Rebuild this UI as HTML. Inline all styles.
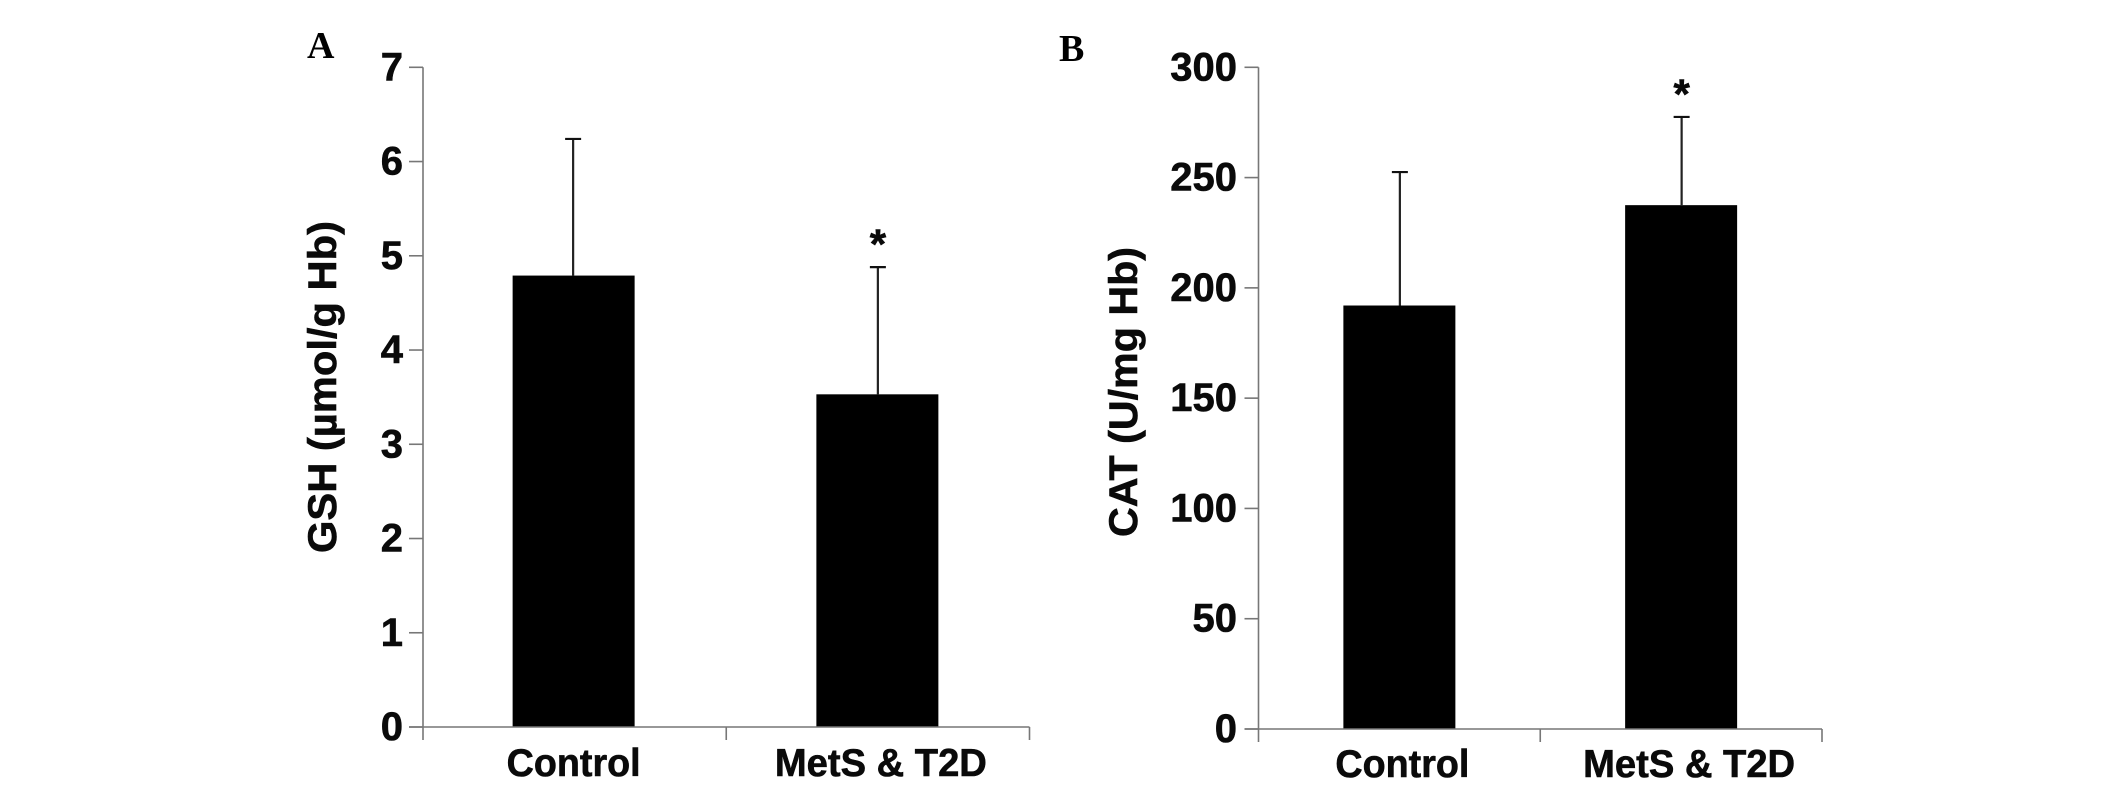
<!DOCTYPE html>
<html lang="en">
<head>
<meta charset="utf-8">
<title>GSH and CAT bar charts</title>
<style>
html,body{margin:0;padding:0;background:#fff;width:2126px;height:812px;overflow:hidden}
svg{display:block}
text{font-family:"Liberation Sans",sans-serif;font-weight:700;fill:#0a0a0a;stroke:#0a0a0a;stroke-width:.6px}
.letter{font-family:"Liberation Serif",serif;fill:#000;stroke:none}
</style>
</head>
<body>
<svg id="figure" width="2126" height="812" viewBox="0 0 2126 812" xmlns="http://www.w3.org/2000/svg"></svg>
<script>
const categories = ['Control', 'MetS & T2D'];
const gshValues = [4.79, 3.53];
const gshUpper = [6.24, 4.88];
const gshTicks = [0, 1, 2, 3, 4, 5, 6, 7];
const catValues = [192, 237.5];
const catUpper = [252.5, 277.5];
const catTicks = [0, 50, 100, 150, 200, 250, 300];
const gshSignificant = [false, true];
const catSignificant = [false, true];

const NS = 'http://www.w3.org/2000/svg';
const svg = document.getElementById('figure');

function add(parent, tag, attrs, content) {
  const el = document.createElementNS(NS, tag);
  for (const k in attrs) el.setAttribute(k, attrs[k]);
  if (content !== undefined) el.textContent = content;
  parent.appendChild(el);
  return el;
}

function drawPanel(p) {
  const g = add(svg, 'g', {});
  
  

  const yMax = p.ticks[p.ticks.length - 1];
  const yScale = v => p.y0 - (v / yMax) * (p.y0 - p.yTop);
  const bandW = (p.xEnd - p.x0) / p.categories.length;
  const xCenter = i => p.x0 + bandW * (i + 0.5);

  const letter = add(g, 'text', {x: p.letterX, y: p.letterY, 'font-size': 38, class: 'letter'}, p.letter);
  
  

  const title = add(g, 'text', {
    transform: 'translate(' + p.titleX + ',' + p.titleY + ') rotate(-90)',
    'text-anchor': 'middle', 'font-size': 40,
    textLength: p.titleLen, lengthAdjust: 'spacingAndGlyphs'
  }, p.title);
  
  

  p.categories.forEach((c, i) => {
    const cx = xCenter(i);
    const bar = add(g, 'rect', {
      x: cx + p.barDx[i] - p.barW / 2, y: yScale(p.values[i]),
      width: p.barW, height: p.y0 - yScale(p.values[i]), fill: '#000'
    });
    
    

    const ex = cx + p.errDx[i];
    const err = add(g, 'line', {
      x1: ex, x2: ex, y1: yScale(p.values[i]), y2: yScale(p.upper[i]),
      stroke: '#222', 'stroke-width': 2.2
    });
    
    

    const cap = add(g, 'line', {
      x1: ex - 8, x2: ex + 8, y1: yScale(p.upper[i]), y2: yScale(p.upper[i]),
      stroke: '#111', 'stroke-width': 2.2
    });
    
    

    if (p.significant[i]) {
      const star = add(g, 'text', {
        x: ex, y: yScale(p.upper[i]) - 8.5, 'text-anchor': 'middle', 'font-size': 42, fill: '#000'
      }, '*');
      
      
    }

    const label = add(g, 'text', {
      x: cx + p.labelDx[i], y: p.labelY, 'text-anchor': 'middle', 'font-size': 39,
      textLength: p.labelLen[i], lengthAdjust: 'spacingAndGlyphs'
    }, c);
    
    
  });

  const yAxis = add(g, 'line', {x1: p.x0, x2: p.x0, y1: p.yTop, y2: p.y0 + 13, stroke: '#777', 'stroke-width': 1.6});
  
  

  const xAxis = add(g, 'line', {x1: p.x0 - 14, x2: p.xEnd, y1: p.y0, y2: p.y0, stroke: '#777', 'stroke-width': 1.6});
  
  

  for (let i = 1; i <= p.categories.length; i++) {
    const tx = p.x0 + bandW * i;
    const xTick = add(g, 'line', {x1: tx, x2: tx, y1: p.y0, y2: p.y0 + 13, stroke: '#777', 'stroke-width': 1.6});
    
    
  }

  p.ticks.forEach(t => {
    const ty = yScale(t);
    const tick = add(g, 'line', {x1: p.x0 - 14, x2: p.x0, y1: ty, y2: ty, stroke: '#777', 'stroke-width': 1.6});
    
    

    const tl = add(g, 'text', {x: p.tickLabelX, y: ty + 13, 'text-anchor': 'end', 'font-size': 40}, String(t));
    
    
  });
}

drawPanel({
  id: 'gsh', letter: 'A', letterX: 307, letterY: 58,
  title: 'GSH (µmol/g Hb)', titleX: 336, titleY: 387, titleLen: 332,
  categories: categories, values: gshValues, upper: gshUpper, ticks: gshTicks, significant: gshSignificant,
  x0: 423, xEnd: 1029.5, y0: 727, yTop: 67.3, barW: 122,
  barDx: [-1, -0.5], errDx: [-1.5, 0], labelDx: [-1, 3], labelLen: [134, 212],
  labelY: 776, tickLabelX: 403
});

drawPanel({
  id: 'cat', letter: 'B', letterX: 1059, letterY: 61,
  title: 'CAT (U/mg Hb)', titleX: 1137, titleY: 392, titleLen: 290,
  categories: categories, values: catValues, upper: catUpper, ticks: catTicks, significant: catSignificant,
  x0: 1258.5, xEnd: 1822, y0: 729, yTop: 67.3, barW: 112,
  barDx: [0, 0], errDx: [0.5, 0.5], labelDx: [3, 8], labelLen: [134, 212],
  labelY: 777, tickLabelX: 1237
});
</script>
</body>
</html>
